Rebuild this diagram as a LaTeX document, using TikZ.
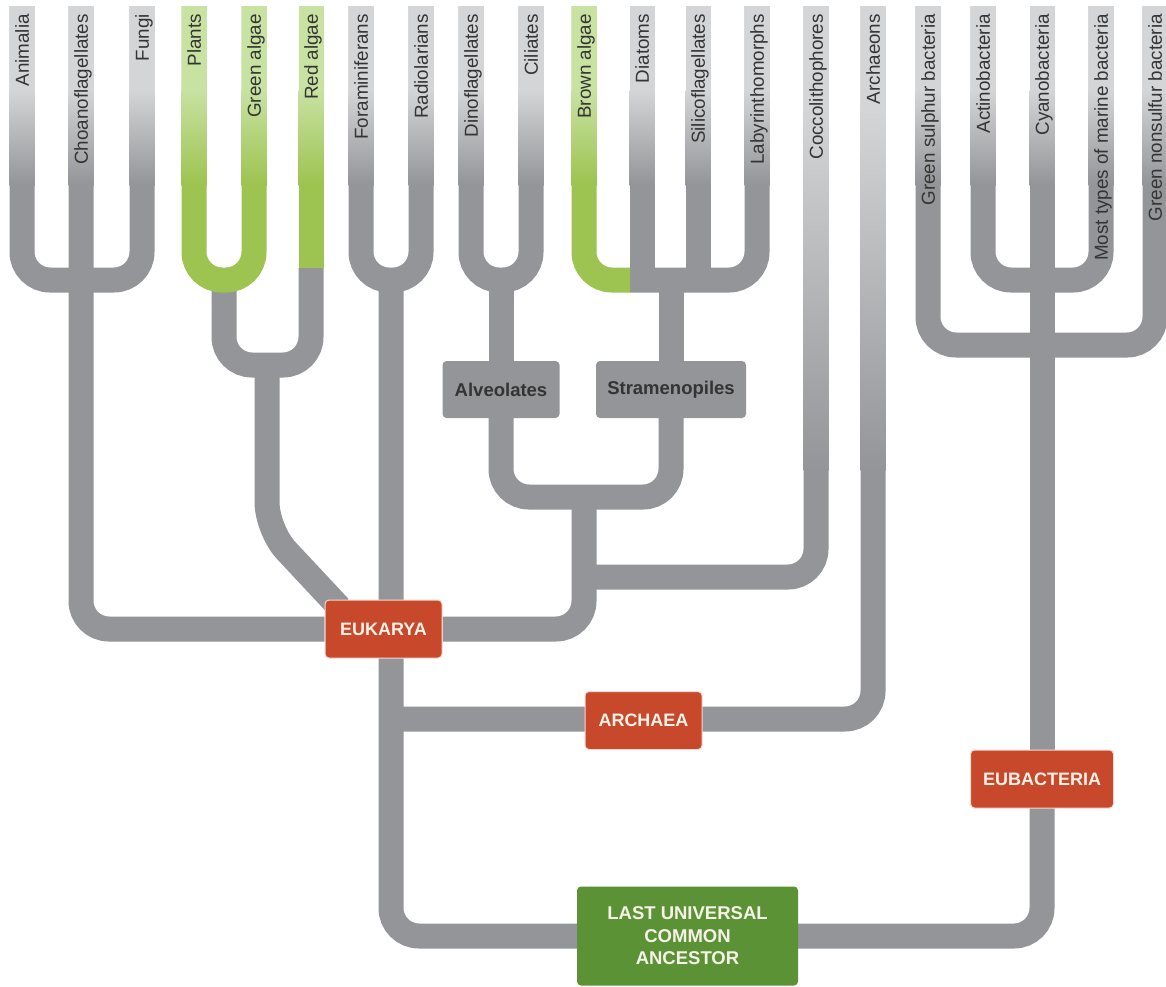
\documentclass[tikz,border=0pt]{standalone}
\usepackage{fontspec}
\setmainfont{Liberation Sans}
\usetikzlibrary{calc}
\definecolor{linegray}{HTML}{939598}
\definecolor{topgray}{HTML}{D4D5D7}
\definecolor{leafgreen}{HTML}{9DC350}
\definecolor{topgreen}{HTML}{C8E2A2}
\definecolor{redbox}{HTML}{C8482B}
\definecolor{lucagreen}{HTML}{5B9236}
\definecolor{labeltext}{HTML}{343434}
\definecolor{boxtext}{HTML}{F7F2E8}
\pgfdeclarelayer{lines}
\pgfdeclarelayer{shades}
\pgfsetlayers{lines,shades,main}
\begin{document}
\begin{tikzpicture}[x=1pt,y=-1pt,
  branch/.style={draw=linegray,line width=25pt,rounded corners=28pt},
  gbranch/.style={draw=leafgreen,line width=25pt,rounded corners=28pt},
  leaflabel/.style={rotate=90,anchor=east,inner sep=0pt,text=labeltext,
    font=\fontsize{18.8}{20}\selectfont,text height=13.5pt,text depth=0pt},
  cladebox/.style={fill=redbox,draw=white!80!redbox,line width=1pt,rounded corners=4pt,
    text=boxtext,font=\fontsize{18}{22}\selectfont\bfseries,minimum height=58pt,inner sep=0pt},
  subbox/.style={fill=linegray,rounded corners=4pt,text=labeltext,
    font=\fontsize{18.5}{22}\selectfont\bfseries,minimum height=57pt,inner sep=0pt},
  rootbox/.style={fill=lucagreen,rounded corners=4pt,text=boxtext,
    font=\fontsize{18.5}{22.5}\selectfont\bfseries,align=center,
    minimum width=221pt,minimum height=99pt,inner sep=0pt}]
\useasboundingbox (0,0) rectangle (1166,986);

% leaf tops
\foreach \n/\x in {animalia/22,choano/81,fungi/142,plants/194,greenalgae/254,redalgae/311,
  foram/361,radio/421,dino/471,ciliates/531,brown/584,diatoms/642,silico/698,laby/757,
  cocco/816,archaeons/873,gsulphur/928,actino/983,cyano/1042,most/1101,gnonsulfur/1155}
  {\coordinate (\n) at (\x,6);}

% junctions
\coordinate (jAn) at (81,280);
\coordinate (jPG) at (224,280);
\coordinate (jPR) at (267,365);
\coordinate (jRd) at (267,530);
\coordinate (redgray) at (311,268);
\coordinate (jFR) at (391,280);
\coordinate (jDC) at (501,280);
\coordinate (jBr) at (630,280);
\coordinate (jST) at (671,280);
\coordinate (jAS) at (584,497);
\coordinate (jCo) at (584,577);
\coordinate (jAr) at (391,719);
\coordinate (jBW) at (1042,280);
\coordinate (jBU) at (1042,345);

% boxes
\node[cladebox,minimum width=117pt] (eukarya) at (383.5,629) {EUKARYA};
\node[cladebox,minimum width=117pt] (archaea) at (643.5,720.5) {ARCHAEA};
\node[cladebox,minimum width=143pt] (eubacteria) at (1042,779) {EUBACTERIA};
\node[subbox,minimum width=117pt] (alveolates) at (501,389.5) {Alveolates};
\node[subbox,minimum width=150pt] (stramenopiles) at (671,389.5) {Stramenopiles};
\node[rootbox] (luca) at (687.5,936) {LAST UNIVERSAL\\COMMON\\ANCESTOR};

\begin{pgfonlayer}{lines}
\fill[white] (0,0) rectangle (1166,986);
% gray branches
\draw[branch] (animalia) -- (animalia |- jAn) -- (fungi |- jAn) -- (fungi);
\draw[branch] (choano) |- (eukarya.west);
\draw[branch] (jPG) -- (jPG |- jPR) -- (redgray |- jPR) -- (redgray);
\draw[branch] (jPR) -- (jRd) -- ($(eukarya.north west)+(15,8)$);
\draw[branch] (foram) -- (foram |- jFR) -- (radio |- jFR) -- (radio);
\draw[branch] (jFR) |- (luca.west);
\draw[branch] (dino) -- (dino |- jDC) -- (ciliates |- jDC) -- (ciliates);
\draw[branch] (jDC) -- (alveolates.north);
\draw[branch] (jBr) -| (laby);
\draw[branch] (diatoms) -- (diatoms |- jBr);
\draw[branch] (silico) -- (silico |- jBr);
\draw[branch] (jST) -- (stramenopiles.north);
\draw[branch] (alveolates.south) -- (alveolates.south |- jAS) -- (stramenopiles.south |- jAS) -- (stramenopiles.south);
\draw[branch] (jAS) |- (eukarya.east);
\draw[branch] (cocco) |- (jCo);
\draw[branch] (archaeons) |- (jAr);
\draw[branch] (actino) -- (actino |- jBW) -- (most |- jBW) -- (most);
\draw[branch] (cyano) -- (jBU);
\draw[branch] (gsulphur) -- (gsulphur |- jBU) -- (gnonsulfur |- jBU) -- (gnonsulfur);
\draw[branch] (jBU) -- (eubacteria.north);
\draw[branch] (eubacteria.center) |- (luca.east);
% green branches
\draw[gbranch] (plants) -- (plants |- jPG) -- (greenalgae |- jPG) -- (greenalgae);
\draw[gbranch] (redalgae) -- (redgray);
\draw[gbranch] (brown) |- (jBr);
\end{pgfonlayer}

\begin{pgfonlayer}{shades}
\foreach \x in {22,81,142,361,421,471,531,642,698,757,928,983,1042,1101,1155}{
  \fill[topgray] (\x-12.5,6) rectangle (\x+12.5,90.5);
  \shade[top color=topgray,bottom color=linegray] (\x-12.5,90) rectangle (\x+12.5,185);
}
\foreach \x in {816,873}{
  \fill[topgray] (\x-12.5,6) rectangle (\x+12.5,110.5);
  \shade[top color=topgray,bottom color=linegray] (\x-12.5,110) rectangle (\x+12.5,470);
}
\foreach \x in {194,254,311,584}{
  \fill[topgreen] (\x-12.5,6) rectangle (\x+12.5,90.5);
  \shade[top color=topgreen,bottom color=leafgreen] (\x-12.5,90) rectangle (\x+12.5,185);
}
\end{pgfonlayer}

% leaf labels
\node[leaflabel] (lanimalia) at (22,14) {Animalia};
\node[leaflabel] (lchoano) at (81,14) {Choanoflagellates};
\node[leaflabel] (lfungi) at (142,14) {Fungi};
\node[leaflabel] (lplants) at (194,14) {Plants};
\node[leaflabel] (lgreenalgae) at (254,14) {Green algae};
\node[leaflabel] (lredalgae) at (311,14) {Red algae};
\node[leaflabel] (lforam) at (361,14) {Foraminiferans};
\node[leaflabel] (lradio) at (421,14) {Radiolarians};
\node[leaflabel] (ldino) at (471,14) {Dinoflagellates};
\node[leaflabel] (lciliates) at (531,14) {Ciliates};
\node[leaflabel] (lbrown) at (584,14) {Brown algae};
\node[leaflabel] (ldiatoms) at (642,14) {Diatoms};
\node[leaflabel] (lsilico) at (698,14) {Silicoflagellates};
\node[leaflabel] (llaby) at (757,14) {Labyrinthomorphs};
\node[leaflabel] (lcocco) at (816,14) {Coccolithophores};
\node[leaflabel] (larchaeons) at (873,14) {Archaeons};
\node[leaflabel] (lgsulphur) at (928,14) {Green sulphur bacteria};
\node[leaflabel] (lactino) at (983,14) {Actinobacteria};
\node[leaflabel] (lcyano) at (1042,14) {Cyanobacteria};
\node[leaflabel] (lmost) at (1101,14) {Most types of marine bacteria};
\node[leaflabel] (lgnonsulfur) at (1155,14) {Green nonsulfur bacteria};
\end{tikzpicture}
\end{document}
